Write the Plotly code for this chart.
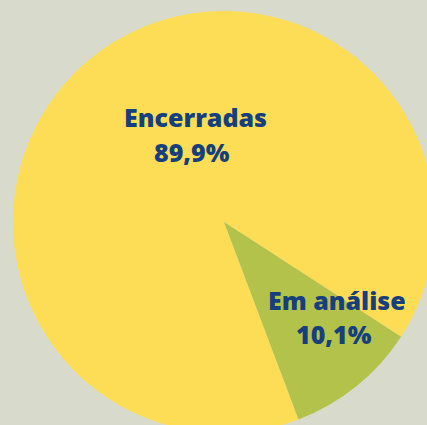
import plotly.graph_objects as go

labels = ["Encerradas", "Em análise"]
values = [89.9, 10.1]
colors = ["#fedd56", "#b3c24b"]

W, H = 448, 448
cx, cy, r = 224, 222, 211

fig = go.Figure(go.Pie(
    labels=labels, values=values, sort=False, direction="clockwise",
    rotation=159.3, textinfo="none", hoverinfo="label+percent",
    marker=dict(colors=colors, line=dict(width=0)),
    domain=dict(x=[(cx - r) / W, (cx + r) / W], y=[(H - cy - r) / H, (H - cy + r) / H]),
    showlegend=False,
))

label_pos = [(195, 117, 192, 152), (337, 300, 334, 334)]
font = dict(family="Open Sans", size=25, color="#163f7d", weight=800)
for lab, val, (x1, y1, x2, y2) in zip(labels, values, label_pos):
    pct = f"{val:.1f}%".replace(".", ",")
    fig.add_annotation(x=x1 / W, y=1 - y1 / H, xref="paper", yref="paper", text=lab,
                       showarrow=False, font=font, xanchor="center", yanchor="middle")
    fig.add_annotation(x=x2 / W, y=1 - y2 / H, xref="paper", yref="paper", text=pct,
                       showarrow=False, font=font, xanchor="center", yanchor="middle")

fig.update_layout(width=W, height=H, margin=dict(l=0, r=0, t=0, b=0),
                  paper_bgcolor="#d8dbcb", plot_bgcolor="#d8dbcb")

fig.write_html("out.html", config={"displayModeBar": False},
               post_script="document.body.style.margin='0';document.body.style.overflow='hidden';document.body.style.background='#d8dbcb';")
